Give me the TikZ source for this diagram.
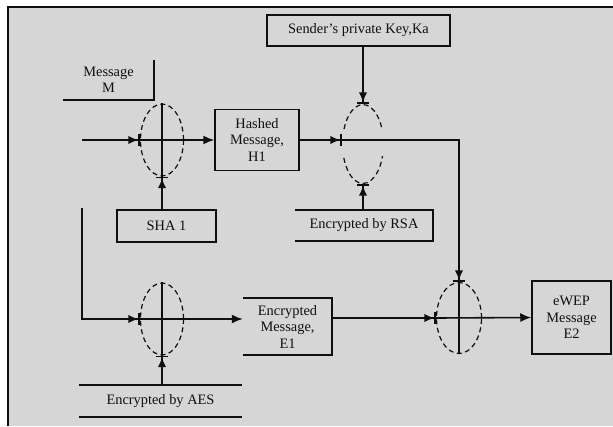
\documentclass[tikz,border=0pt]{standalone}
\usepackage{fontspec}
\setmainfont{Liberation Serif}
\usetikzlibrary{arrows.meta,shapes.geometric}
\definecolor{bggrey}{RGB}{214,214,214}
\definecolor{ink}{RGB}{15,15,15}
\begin{document}
\begin{tikzpicture}[x=1pt,y=-1pt,
  every node/.style={font=\fontsize{14.4}{16.5}\selectfont, text=ink, inner sep=0pt, align=center},
  sz/.style 2 args={minimum width=#1pt, minimum height=#2pt},
  box/.style={draw=ink, line width=1.5pt},
  ln/.style={draw=ink, line width=1.6pt},
  ell/.style={ellipse, draw=ink, dash pattern=on 5pt off 3.5pt, line width=1.2pt, minimum width=43pt, minimum height=72pt},
  arr/.style={-{Latex[length=11pt,width=9pt]}},
  arrb/.style={-{Latex[length=10pt,width=8.5pt]Bar[width=12pt]}}
]
\useasboundingbox (0,0) rectangle (613,426);
\fill[white] (0,0) rectangle (613,426);
\fill[bggrey] (7.5,6.5) rectangle (613,426);
\draw[ink, line width=2.6pt] (7.8,426) -- (7.8,6.8) -- (613,6.8);

% text boxes
\node[sz={91}{40}] (msg) at (108.5,80) {Message\\M};
\draw[ln] (msg.south west) -- (msg.south east) -- (msg.north east);
\node[box, sz={84}{61}] (hash) at (257,140) {Hashed\\Message,\\H1};
\node[box, sz={183}{31}] (sender) at (358.5,30.5) {Sender's private Key,Ka};
\node[sz={138}{31}] (rsa) at (364,225.5) {Encrypted by RSA};
\draw[ln] (rsa.north west) -- (rsa.north east) -- (rsa.south east) -- (rsa.south west);
\node[box, sz={99}{32}] (sha) at (166.5,226) {SHA 1};
\node[sz={163}{32}] (aes) at (160.5,401) {Encrypted by AES};
\draw[ln] (aes.north west) -- (aes.north east);
\draw[ln] (aes.south west) -- (aes.south east);
\node[sz={89}{57}] (enc) at (287.5,326.5) {Encrypted\\Message,\\E1};
\draw[ln] (enc.north west) -- (enc.north east) -- (enc.south east) -- (enc.south west);
\node[box, sz={79}{73}] (ewep) at (571.5,317.5) {eWEP\\Message\\E2};

% ellipses
\node[ell] (e1) at (162,140) {};
\node[ell] (e3) at (162,319) {};
\node[ell, minimum width=45pt, minimum height=71pt] (e4) at (459,318) {};
\begin{scope}
\clip (330,90) rectangle (400,129) (330,156) rectangle (400,200);
\node[ell, minimum width=41pt, minimum height=79pt] (e2) at (363,144) {};
\end{scope}

% connectors
\coordinate (in) at (82,140);
\coordinate (br) at (82,208);
\draw[ln, arrb] (in) -- (e1.west);
\draw[ln, arr] (e1.west) -- (hash.west);
\draw[ln] (e1.north) -- (e1.south);
\draw[ln, arrb] (e1.south |- sha.north) -- (e1.south);
\draw[ln, arrb] (hash.east) -- (e2.west |- hash.east);
\draw[ln, arrb] (e2.west |- hash.east) -- (e4.north |- hash.east) -- (e4.north);
\draw[ln, arrb] (e2.north |- sender.south) -- (e2.north);
\draw[ln, arrb] (e2.south |- rsa.north) -- (e2.south);
\draw[ln, arrb] (br) -- (br |- e3.west) -- (e3.west);
\draw[ln, arr] (e3.west) -- (e3.west -| enc.west);
\draw[ln] (e3.north) -- (e3.south);
\draw[ln, arrb] (e3.south |- aes.north) -- (e3.south);
\draw[ln, arrb] (e4.west -| enc.east) -- (e4.west);
\draw[ln] (e4.north) -- (e4.south);
\draw[ln, arr] (e4.west) -- (ewep.west);
\end{tikzpicture}
\end{document}
